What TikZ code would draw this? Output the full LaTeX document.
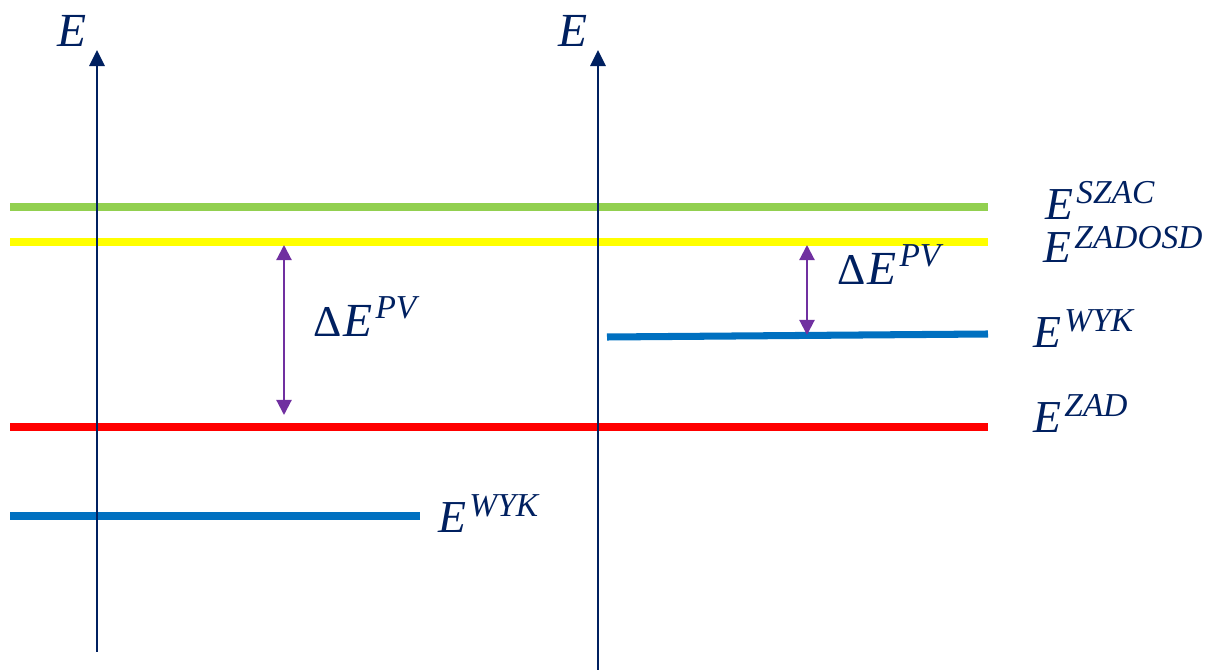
\documentclass[tikz,border=0pt]{standalone}
\usepackage{fontspec}
\setmainfont{Liberation Serif}
\usetikzlibrary{arrows.meta}
\definecolor{navy}{HTML}{002060}
\definecolor{levelgreen}{HTML}{92D050}
\definecolor{levelyellow}{HTML}{FFFF00}
\definecolor{levelred}{HTML}{FF0000}
\definecolor{levelblue}{HTML}{0070C0}
\definecolor{gappurple}{HTML}{7030A0}
% #1 size of E, #2 size of superscript, #3 raise, #4 superscript
\newcommand{\lvlname}[4]{{\fontsize{#1}{#1}\selectfont\textit{E}}\kern0.8pt%
  \raisebox{#3}{\fontsize{#2}{#2}\selectfont\textit{#4}}}
\newcommand{\gapname}{{\fontsize{12.5}{13}\selectfont Δ}\kern0.5pt\lvlname{13.5pt}{9.5pt}{5.4pt}{PV}}
\tikzset{
  axis/.style={draw=navy, line width=0.8pt, -{Triangle[width=4.3pt,length=4.6pt]}},
  level/.style={line width=2pt},
  gap/.style={draw=gappurple, line width=0.6pt,
    {Triangle[width=4.3pt,length=4.3pt]}-{Triangle[width=4.3pt,length=4.3pt]}},
  lbl/.style={text=navy, inner sep=0pt, anchor=base west,
    font=\fontsize{13.5}{15}\selectfont}
}
\begin{document}
\begin{tikzpicture}[x=0.01cm, y=-0.01cm]
  \useasboundingbox (0,0) rectangle (1214,670);
  % energy levels
  \draw[level, levelgreen] (10,207) -- (988,207);
  \draw[level, levelyellow] (10,242) -- (988,242);
  \draw[level, levelred] (10,427) -- (988,427);
  \draw[level, levelblue] (10,516) -- (420,516);
  \draw[level, levelblue] (607,337) -- (988,334);
  % axes
  \draw[axis] (97,652) -- (97,50);
  \draw[axis] (598,670) -- (598,50);
  \node[lbl] (eleft) at (57,47) {\textit{E}};
  \node[lbl] (eright) at (558,47) {\textit{E}};
  % gaps
  \coordinate (gapltop) at (284,245);
  \coordinate (gaplbot) at (284,415);
  \coordinate (gaprtop) at (807,245);
  \coordinate (gaprbot) at (807,335);
  \draw[gap] (gapltop) -- (gaplbot);
  \draw[gap] (gaprtop) -- (gaprbot);
  \node[lbl] (pvleft) at (313,337) {\gapname};
  \node[lbl] (pvright) at (837,285) {\gapname};
  % level names
  \node[lbl] (szac) at (1045,220) {\lvlname{13pt}{9.5pt}{4.6pt}{SZAC}};
  \node[lbl] (zadosd) at (1043,263) {\lvlname{13pt}{9.5pt}{4.2pt}{ZADOSD}};
  \node[lbl] (wykright) at (1033,348) {\lvlname{13pt}{9.5pt}{4.6pt}{WYK}};
  \node[lbl] (zad) at (1033,433) {\lvlname{13pt}{9.5pt}{4.6pt}{ZAD}};
  \node[lbl] (wykleft) at (438,533) {\lvlname{13pt}{9.5pt}{4.6pt}{WYK}};
\end{tikzpicture}
\end{document}
